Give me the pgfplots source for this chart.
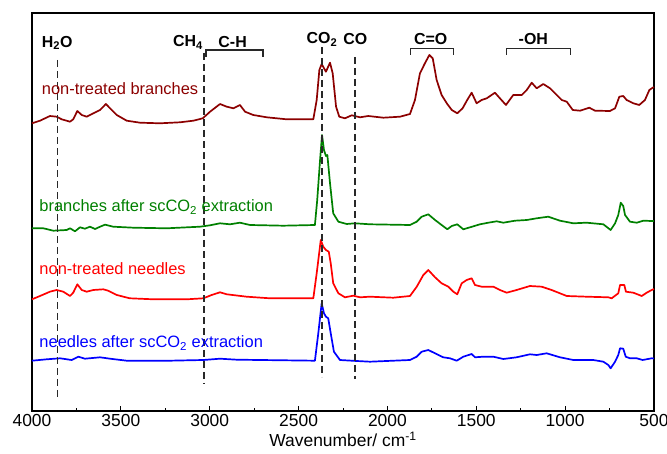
\documentclass[border=0pt]{standalone}
\usepackage{pgfplots}
\pgfplotsset{compat=1.18}
\usepackage{fontspec}
\setmainfont{Liberation Sans}
\definecolor{cdred}{RGB}{140,0,0}
\definecolor{cgreen}{RGB}{0,128,0}
\definecolor{cred}{RGB}{255,0,0}
\definecolor{cblue}{RGB}{0,0,255}
\definecolor{cdash}{RGB}{40,40,40}
\newcommand{\lblfont}{\fontsize{16.5}{19}\selectfont}
\newcommand{\annfont}{\fontsize{16}{19}\selectfont\bfseries}
\begin{document}
\begin{tikzpicture}
\path[use as bounding box] (-32bp,-43bp) rectangle (635bp,411bp);
\begin{axis}[
  scale only axis, width=622bp, height=398bp,
  x dir=reverse, xmin=500, xmax=4000, ymin=0, ymax=398,
  xtick={500,1000,...,4000}, minor x tick num=1,
  xtick pos=left, ytick pos=both,
  ytick=\empty, minor ytick={7.3,17.9,...,390},
  tick align=inside,
  major tick length=5bp, minor tick length=3bp,
  every tick/.style={black, line width=0.9bp},
  axis line style={line width=1.3bp},
  tick label style={font=\fontsize{17.5}{20}\selectfont},
  /pgf/number format/assume math mode=true,
  /pgf/number format/1000 sep={},
  xlabel={Wavenumber/ cm\textsuperscript{-1}},
  xlabel style={font=\fontsize{17.5}{20}\selectfont, yshift=1.5bp},
  clip=false,
  every axis plot/.append style={line width=1.7bp, line join=round},
]
% non-treated branches
\addplot[cdred] coordinates {
(4000,287.7)(3955,290.3)(3899,295)(3861,294.3)(3833,291.7)(3786,289.3)(3768,291.7)(3745,300)(3720,296)(3692,294.3)(3655,297.7)(3617,301)(3584,307)(3561,302.7)(3523,296)(3467,290.3)(3392,288.3)(3280,287.7)(3167,288.7)(3092,290.3)(3039,292.7)(2998,299.3)(2942,307)(2904,304.3)(2867,302.7)(2830,306)(2801,299.3)(2755,296)(2679,293.7)(2567,291.7)(2417,291.7)(2398,311)(2383,341)(2370,347)(2346,339.3)(2323,348.3)(2308,337.7)(2289,304.3)(2271,294.3)(2239,292.7)(2201,295.7)(2154,293.7)(2108,295)(2023,293.3)(1929,294.3)(1873,297)(1845,311)(1817,337.7)(1789,347.7)(1764,356)(1745,352.7)(1723,331)(1695,316)(1666,307.7)(1638,301)(1607,297.7)(1577,302.7)(1551,311)(1526,318.3)(1498,307.7)(1470,311)(1441,312.7)(1395,318.3)(1367,312.7)(1333,306)(1292,316)(1244,316)(1216,321)(1188,328.3)(1160,322.7)(1123,327)(1085,322.7)(1047,316)(1019,311)(991,309.3)(957,301)(916,300.3)(864,303.3)(832,300.3)(748,300)(719,302.7)(695,314.3)(673,315)(654,311)(616,307.7)(583,306)(551,311)(526,321)(507,323.3)(500,324)
};
% branches after scCO2 extraction
\addplot[cgreen] coordinates {
(4000,182.7)(3936,182.7)(3880,180.3)(3805,181)(3786,182.7)(3758,179.7)(3730,183.7)(3702,182.3)(3674,184.3)(3645,182)(3617,184.3)(3589,186.3)(3543,184.3)(3430,183.3)(3242,182.7)(3055,184.3)(2998,185.7)(2942,187.7)(2886,186.7)(2830,188.3)(2773,186)(2586,185.3)(2408,186)(2395,211)(2379,251)(2368,276)(2357,261)(2346,255)(2338,256)(2323,227.7)(2305,197.7)(2276,189.3)(2229,187)(2183,187.7)(2098,186.7)(1873,186)(1835,189.3)(1807,194.3)(1770,196.7)(1732,191)(1695,186)(1663,181.7)(1638,185)(1607,186.7)(1573,181.7)(1535,183.7)(1479,186.7)(1432,188.3)(1385,189.7)(1348,188.3)(1282,190.3)(1216,191)(1160,192.7)(1095,194.3)(1029,190.3)(954,187.7)(879,188.3)(785,186.7)(744,181)(719,187.7)(701,196)(687,208.3)(673,205)(663,196)(635,189.3)(597,188.3)(560,190.3)(513,190)(500,190)
};
% non-treated needles
\addplot[cred] coordinates {
(4000,111.7)(3955,115)(3899,119.3)(3861,121)(3824,119.3)(3786,115)(3768,118.3)(3745,126.7)(3720,121)(3692,119.3)(3655,121)(3599,121.7)(3571,120.3)(3523,116)(3449,112.7)(3317,111.7)(3129,111.7)(3036,112.7)(2989,116)(2942,118.7)(2904,116.7)(2792,114.3)(2661,112.7)(2417,112.7)(2398,137.7)(2375,171)(2361,164.3)(2346,161)(2330,159.3)(2319,147.7)(2305,127.7)(2276,117.7)(2239,113.7)(2192,115.3)(2154,113.7)(2098,114.3)(1967,113.3)(1873,115)(1835,124.3)(1798,136)(1770,141)(1732,133.7)(1695,127.7)(1657,124.3)(1629,119.3)(1607,116.7)(1582,127.7)(1554,131)(1526,132.7)(1507,126)(1470,124.3)(1404,124.3)(1367,121)(1329,118.3)(1273,121)(1198,125)(1132,124.3)(1076,121)(991,115)(879,114.3)(757,113.7)(738,112.7)(701,117.7)(691,126)(667,126)(658,119.3)(616,118.3)(569,115)(541,118.3)(513,121)(500,122)
};
% needles after scCO2 extraction
\addplot[cblue] coordinates {
(4000,50.3)(3917,51.7)(3842,52.7)(3777,51)(3739,54.3)(3702,52.3)(3617,53.7)(3561,52.3)(3467,50.3)(3224,50.3)(3036,51)(2942,52.3)(2848,51.3)(2408,50.3)(2389,77.7)(2370,107.7)(2357,97.7)(2346,94.3)(2333,92.7)(2319,77.7)(2301,59.3)(2267,51)(2173,50)(2098,49.3)(1873,51)(1835,54.3)(1807,59.3)(1770,61)(1732,57.7)(1686,53.7)(1648,52.7)(1610,50.3)(1573,54.3)(1526,57)(1507,53.7)(1461,54.3)(1404,54.3)(1348,52)(1273,53.7)(1198,56.7)(1160,56)(1104,57.7)(1029,53.7)(954,51)(842,51)(785,49.3)(757,46)(744,42.7)(719,49.3)(701,56)(691,62.7)(673,62.3)(659,54.3)(635,52.7)(597,52.7)(564,51)(513,52.7)(500,52.5)
};
% dashed marker lines
\draw[cdash, line width=1.4bp, dash pattern=on 7bp off 4bp] (axis cs:3858,351) -- (axis cs:3858,12);
\draw[cdash, line width=1.4bp, dash pattern=on 7bp off 4bp] (axis cs:3032,358) -- (axis cs:3032,27);
\draw[cdash, line width=1.4bp, dash pattern=on 7bp off 4bp] (axis cs:2369,364) -- (axis cs:2369,34);
\draw[cdash, line width=1.4bp, dash pattern=on 7bp off 4bp] (axis cs:2182,354) -- (axis cs:2182,32);
% brackets
\draw[cdash, line width=1.2bp] (axis cs:3021,354) -- (axis cs:3021,361) -- (axis cs:2700,361) -- (axis cs:2700,354);
\draw[cdash, line width=1.2bp] (axis cs:1869,356) -- (axis cs:1869,362.7) -- (axis cs:1629,362.7) -- (axis cs:1629,356);
\draw[cdash, line width=1.2bp] (axis cs:1329,356) -- (axis cs:1329,362.7) -- (axis cs:972,362.7) -- (axis cs:972,356);
% annotation labels
\node[font=\annfont, inner sep=0pt] at (axis cs:3858,368) {H\textsubscript{2}O};
\node[font=\annfont, inner sep=0pt, anchor=east] at (axis cs:3037,368.3) {CH\textsubscript{4}};
\node[font=\annfont, inner sep=0pt] at (axis cs:2871,369.3) {C-H};
\node[font=\annfont, inner sep=0pt] at (axis cs:2368,371.7) {CO\textsubscript{2}};
\node[font=\annfont, inner sep=0pt] at (axis cs:2181,371.7) {CO};
\node[font=\annfont, inner sep=0pt] at (axis cs:1756,371.7) {C=O};
\node[font=\annfont, inner sep=0pt] at (axis cs:1179,371.7) {-OH};
% curve labels
\node[font=\lblfont, text=cdred, inner sep=0pt, anchor=base west] at (axis cs:3945,316) {non-treated branches};
\node[font=\lblfont, text=cgreen, inner sep=0pt, anchor=base west] at (axis cs:3959,199.3) {branches after scCO\textsubscript{2} extraction};
\node[font=\lblfont, text=cred, inner sep=0pt, anchor=base west] at (axis cs:3959,136) {non-treated needles};
\node[font=\lblfont, text=cblue, inner sep=0pt, anchor=base west] at (axis cs:3959,63.3) {needles after scCO\textsubscript{2} extraction};
\end{axis}
\end{tikzpicture}
\end{document}
